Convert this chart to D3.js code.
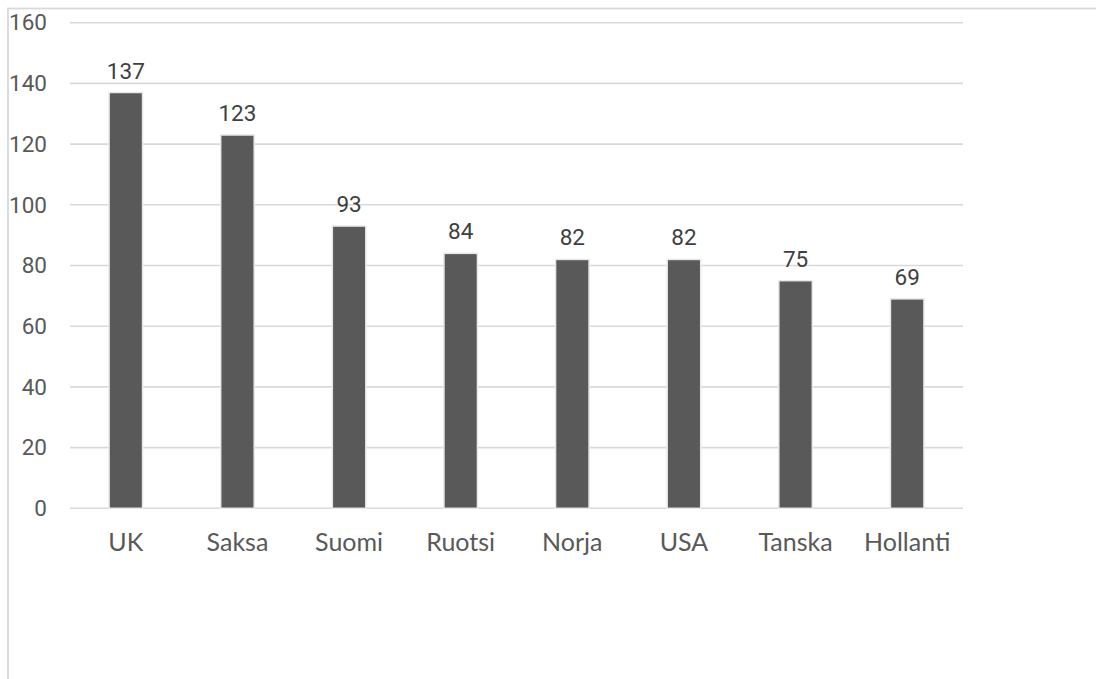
<!DOCTYPE html>
<html>
<head>
<meta charset="utf-8">
<script src="https://cdn.jsdelivr.net/npm/d3@7"></script>
<style>
  body { margin: 0; background: #fff; }
  svg { display: block; }
</style>
</head>
<body>
<svg id="chart"></svg>
<script>
const categories = ['UK', 'Saksa', 'Suomi', 'Ruotsi', 'Norja', 'USA', 'Tanska', 'Hollanti'];
const values = [137, 123, 93, 84, 82, 82, 75, 69];
const yTicks = [0, 20, 40, 60, 80, 100, 120, 140, 160];

const width = 1096, height = 679;
const plotLeft = 70, plotRight = 963, plotTop = 22.7, plotBottom = 508.3;

const svg = d3.select('#chart')
  .attr('width', width)
  .attr('height', height);

// chart area border (runs off the right and bottom of the picture)
svg.append('rect')
  .attr('x', 8).attr('y', 8.5)
  .attr('width', width + 20).attr('height', height + 20)
  .attr('fill', 'none')
  .attr('stroke', '#d9d9d9')
  .attr('stroke-width', 1.8);

const x = d3.scaleBand().domain(categories).range([plotLeft, plotRight]).paddingInner(0.7).paddingOuter(0.35);
const y = d3.scaleLinear().domain([0, 160]).range([plotBottom, plotTop]);

// gridlines
svg.append('g')
  .selectAll('line')
  .data(yTicks)
  .enter()
  .append('line')
  .attr('x1', plotLeft).attr('x2', plotRight)
  .attr('y1', d => y(d)).attr('y2', d => y(d))
  .attr('stroke', '#d9d9d9')
  .attr('stroke-width', 1.6);

// y axis labels
const yAxis = svg.append('g')
  .attr('transform', `translate(${plotLeft - 10},0)`)
  .call(d3.axisLeft(y).tickValues(yTicks).tickSize(0).tickPadding(13));
yAxis.select('.domain').remove();
yAxis.selectAll('text')
  .attr('font-family', 'Roboto, sans-serif')
  .attr('font-size', 22.5)
  .attr('fill', '#595959');

// bars
svg.append('g')
  .selectAll('rect')
  .data(values)
  .enter()
  .append('rect')
  .attr('x', (d, i) => x(categories[i]))
  .attr('y', d => y(d))
  .attr('width', x.bandwidth())
  .attr('height', d => y(0) - y(d))
  .attr('fill', '#595959')
  .attr('stroke', '#e8e8e8')
  .attr('stroke-width', 1.5);

// value labels
svg.append('g')
  .selectAll('text')
  .data(values)
  .enter()
  .append('text')
  .attr('x', (d, i) => x(categories[i]) + x.bandwidth() / 2)
  .attr('y', d => y(d) - 14)
  .attr('text-anchor', 'middle')
  .attr('font-family', 'Roboto, sans-serif')
  .attr('font-size', 22.5)
  .attr('fill', '#404040')
  .text(d => d);

// category labels
const xAxis = svg.append('g')
  .attr('transform', `translate(0,${plotBottom})`)
  .call(d3.axisBottom(x).tickSize(0).tickPadding(25));
xAxis.select('.domain').remove();
xAxis.selectAll('text')
  .attr('font-family', 'Lato, sans-serif')
  .attr('font-size', 25)
  .attr('fill', '#595959');
</script>
</body>
</html>
